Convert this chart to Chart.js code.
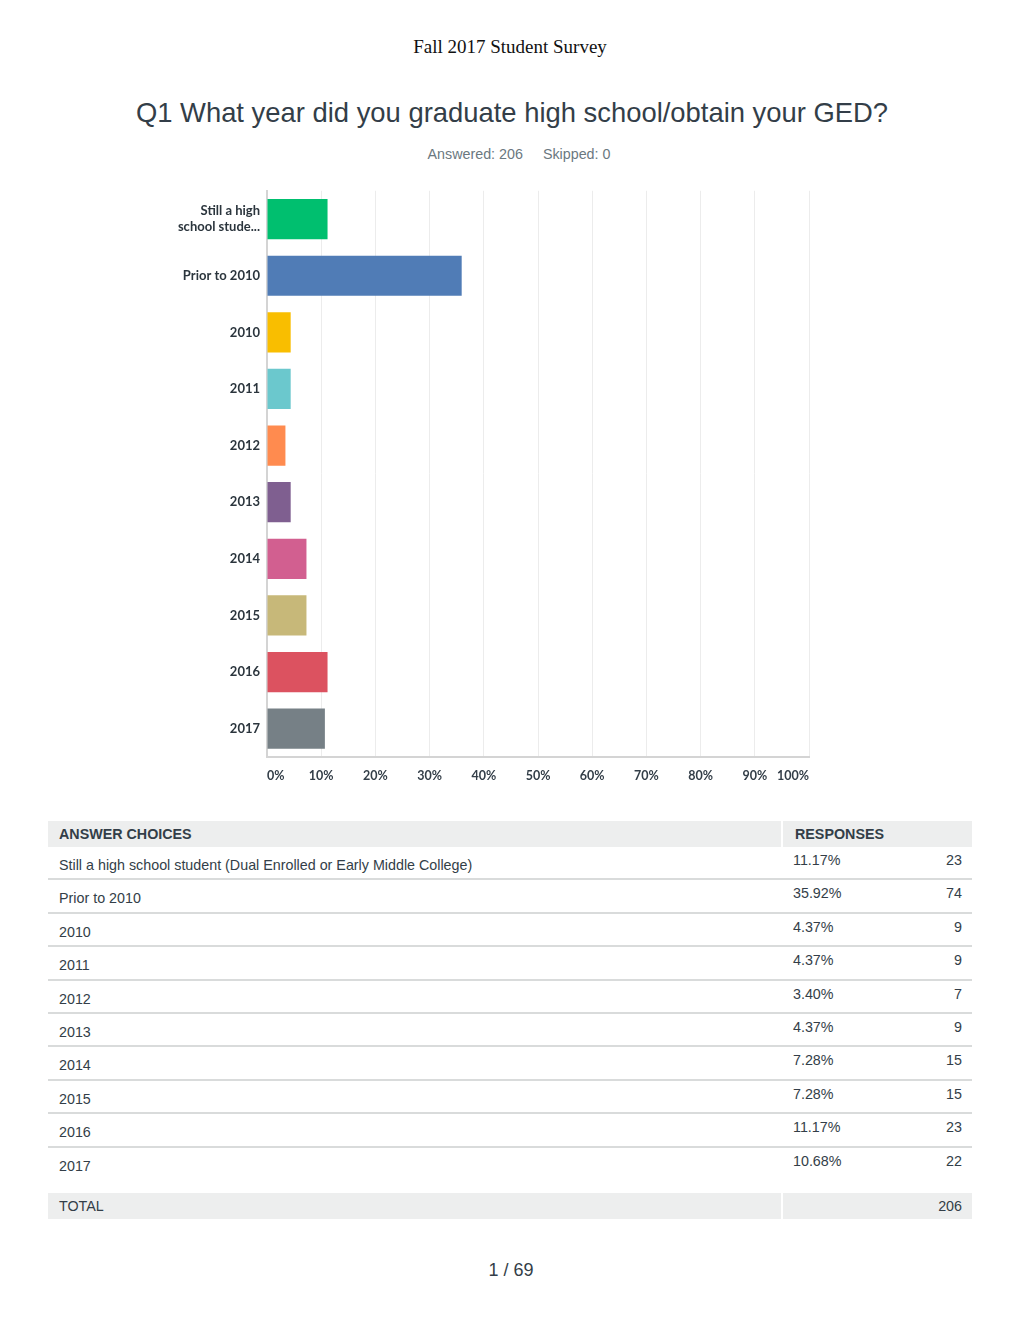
<!DOCTYPE html>
<html>
<head>
<meta charset="utf-8">
<script src="https://cdn.jsdelivr.net/npm/chart.js@4"></script>
<style>
  body { margin: 0; width: 1020px; height: 1320px; position: relative; background: #fff; font-family: "Liberation Sans", Arial, sans-serif; color: #333e48; }
  .doc-head { position: absolute; top: 36px; left: 0; width: 1020px; text-align: center; font-family: "Liberation Serif", "Times New Roman", serif; font-size: 19px; color: #111; }
  .q-title { position: absolute; top: 97px; left: 0; width: 1024px; text-align: center; font-size: 27.4px; color: #333e48; }
  .q-meta { position: absolute; top: 146px; left: 0; width: 1038px; text-align: center; font-size: 14.3px; color: #6b787f; }
  .q-meta span + span { margin-left: 20px; }
  #chartWrap { position: absolute; left: 0; top: 176px; }
  .tbl { position: absolute; left: 48px; top: 821px; width: 924px; font-size: 14.3px; }
  .row { display: flex; }
  .row .c1 { width: 733px; box-sizing: border-box; padding-left: 11px; }
  .row .c2 { width: 191px; box-sizing: border-box; padding-left: 12px; padding-right: 10px; display: flex; justify-content: space-between; }
  .hdr { background: #edeeee; height: 26px; line-height: 26px; font-weight: bold; }
  .hdr .c2, .tot .c2 { border-left: 2px solid #fff; }
  .data { height: 33.4px; box-sizing: border-box; border-bottom: 2px solid #d9dbdb; }
  .data.last { border-bottom: none; }
  .data .c1 { padding-top: 10px; }
  .data .c2 { padding-top: 5px; }
  .tot { background: #edeeee; height: 26px; line-height: 26px; margin-top: 12px; }
  .foot { position: absolute; top: 1260px; left: 0; width: 1022px; text-align: center; font-size: 18px; color: #333e48; }
</style>
</head>
<body>
<div class="doc-head">Fall 2017 Student Survey</div>
<div class="q-title">Q1 What year did you graduate high school/obtain your GED?</div>
<div class="q-meta"><span>Answered: 206</span><span>Skipped: 0</span></div>
<div id="chartWrap"><canvas id="q1" width="1020" height="612"></canvas></div>
<div class="tbl" id="tbl"></div>
<div class="foot">1 / 69</div>
<script>
const chartLabels = [['Still a high', 'school stude...'], 'Prior to 2010', '2010', '2011', '2012', '2013', '2014', '2015', '2016', '2017'];
const choiceNames = ['Still a high school student (Dual Enrolled or Early Middle College)', 'Prior to 2010', '2010', '2011', '2012', '2013', '2014', '2015', '2016', '2017'];
const percents = [11.17, 35.92, 4.37, 4.37, 3.40, 4.37, 7.28, 7.28, 11.17, 10.68];
const counts = [23, 74, 9, 9, 7, 9, 15, 15, 23, 22];
const barColors = ['#00bf6f', '#507cb6', '#f9be00', '#6bc8cd', '#ff8b4f', '#7f5f90', '#d25f90', '#c7b879', '#dc5260', '#768086'];
const totalCount = 206;

const ctx = document.getElementById('q1').getContext('2d');
new Chart(ctx, {
  type: 'bar',
  data: {
    labels: chartLabels,
    datasets: [{
      data: percents,
      backgroundColor: barColors,
      borderWidth: 0,
      barPercentage: 0.71,
      categoryPercentage: 1
    }]
  },
  options: {
    indexAxis: 'y',
    responsive: false,
    animation: false,
    devicePixelRatio: 1,
    layout: { padding: { top: 5, right: 211, left: 0, bottom: 0 } },
    plugins: { legend: { display: false }, tooltip: { enabled: false } },
    scales: {
      x: {
        min: 0,
        max: 100,
        grid: { color: '#ececec', lineWidth: 1, drawTicks: false },
        border: { color: '#d4d4d4', width: 2 },
        ticks: {
          stepSize: 10,
          align: 'inner',
          padding: 11,
          color: '#333e48',
          font: { family: 'Lato', size: 12.5, weight: 'bold' },
          callback: v => v + '%'
        },
        afterFit: s => { s.height = 31; }
      },
      y: {
        grid: { display: false, drawTicks: false },
        border: { color: '#d4d4d4', width: 2 },
        ticks: {
          padding: 7,
          color: '#2b353d',
          font: { family: 'Lato', size: 13, weight: 'bold', lineHeight: 1.2 }
        },
        afterFit: s => { s.width = 267; }
      }
    }
  }
});

// answer table built from the same arrays
const tbl = document.getElementById('tbl');
let html = '<div class="row hdr"><div class="c1">ANSWER CHOICES</div><div class="c2">RESPONSES</div></div>';
choiceNames.forEach((name, i) => {
  const cls = i === choiceNames.length - 1 ? 'row data last' : 'row data';
  html += '<div class="' + cls + '"><div class="c1">' + name + '</div><div class="c2"><span>' +
    percents[i].toFixed(2) + '%</span><span>' + counts[i] + '</span></div></div>';
});
html += '<div class="row tot"><div class="c1">TOTAL</div><div class="c2"><span></span><span>' + totalCount + '</span></div></div>';
tbl.innerHTML = html;
</script>
</body>
</html>
